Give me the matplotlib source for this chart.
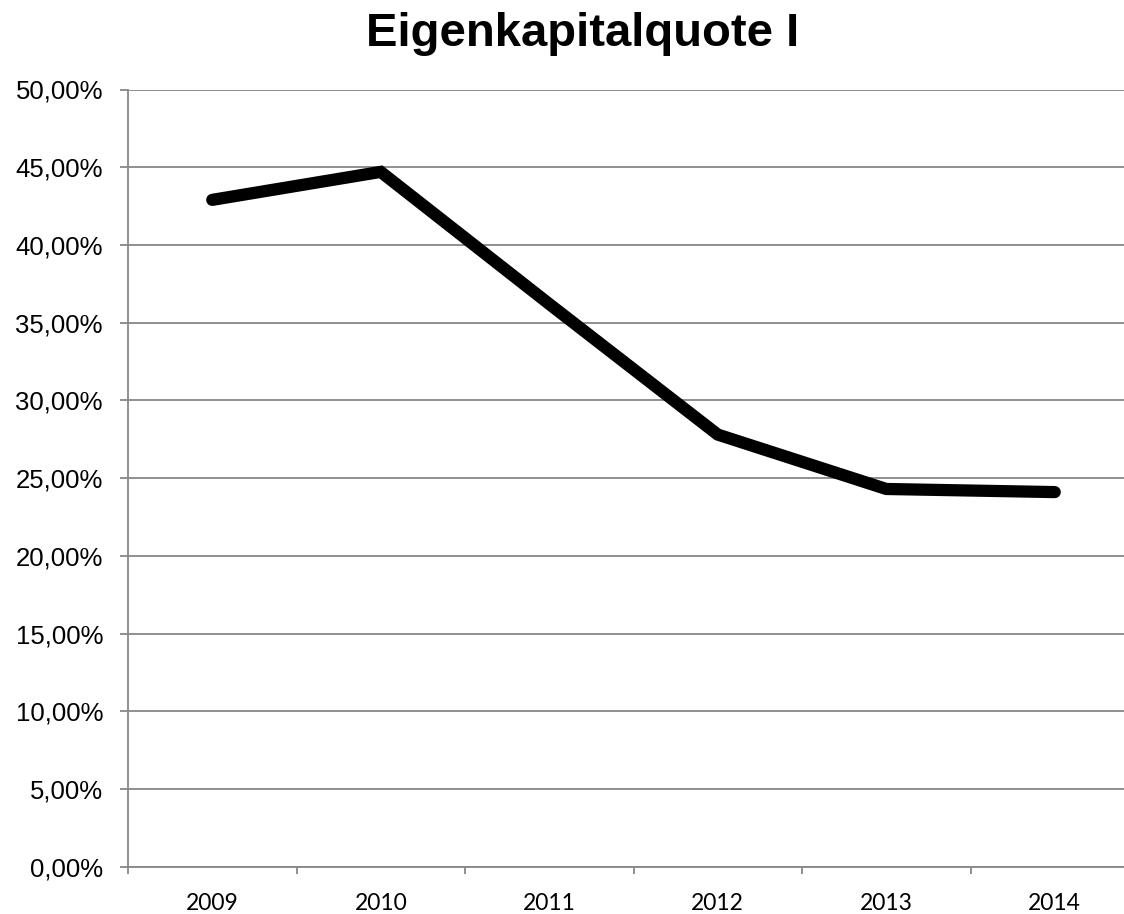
import matplotlib
matplotlib.use("Agg")
import matplotlib.pyplot as plt
from matplotlib.ticker import FuncFormatter, FixedLocator

years = ["2009", "2010", "2011", "2012", "2013", "2014"]
quote = [42.9, 44.7, 36.2, 27.8, 24.3, 24.1]
y_ticks = [0, 5, 10, 15, 20, 25, 30, 35, 40, 45, 50]

W, H = 1124, 914
fig = plt.figure(figsize=(W / 100, H / 100), dpi=100)
ax = fig.add_axes([128 / W, 47.3 / H, (1139 - 128) / W, (866.7 - 89.5) / H])

grey = "#878787"
x = list(range(len(years)))
ax.plot(x, quote, color="black", lw=8.8, solid_capstyle="round", solid_joinstyle="miter", zorder=3)

ax.set_xlim(-0.5, len(years) - 0.5)
ax.set_ylim(0, 50)
ax.set_yticks(y_ticks)
ax.yaxis.set_major_formatter(FuncFormatter(lambda v, p: f"{v:.2f}".replace(".", ",") + "%"))
ax.grid(axis="y", color=grey, lw=1.3)
ax.set_axisbelow(True)

ax.xaxis.set_major_locator(FixedLocator([i - 0.5 for i in range(len(years) + 1)]))
ax.xaxis.set_major_formatter(FuncFormatter(lambda v, p: ""))
ax.set_xticks(x, minor=True)
ax.set_xticklabels(years, minor=True, fontfamily="Lato", fontsize=16.5)
ax.tick_params(axis="x", which="major", length=5, width=1.3, color=grey)
ax.tick_params(axis="x", which="minor", length=0, pad=19)
ax.tick_params(axis="y", length=6, width=1.3, color=grey, pad=12, labelsize=18.5)
for lab in ax.get_yticklabels():
    lab.set_fontfamily("Liberation Sans")

for s in ["top", "right"]:
    ax.spines[s].set_visible(False)
for s in ["left", "bottom"]:
    ax.spines[s].set_color(grey)
    ax.spines[s].set_linewidth(1.3)

fig.text(583 / W, 1 - 46 / H, "Eigenkapitalquote I", ha="center", va="baseline",
         fontfamily="Liberation Sans", fontweight="bold", fontsize=34)

fig.savefig("out.png", dpi=100)
